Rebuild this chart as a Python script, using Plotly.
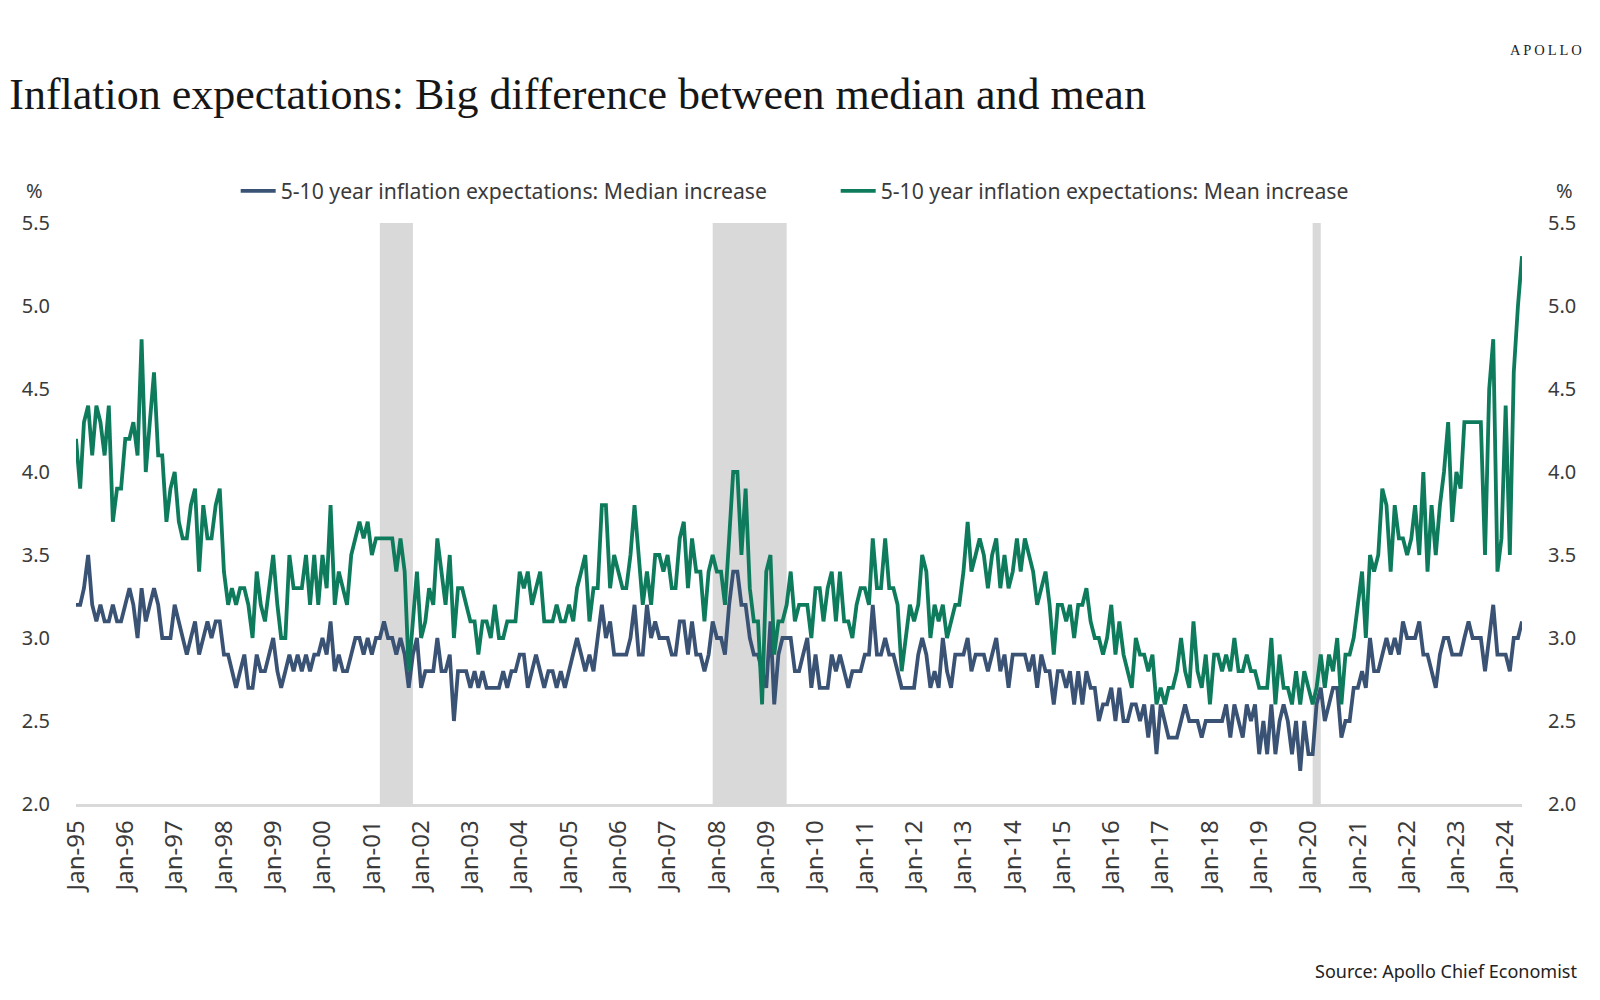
import plotly.graph_objects as go
import pandas as pd

# ---- data (monthly, Jan-1995 .. May-2024) ----
median_increase = [
    3.2,3.2,3.3,3.5,3.2,3.1,3.2,3.1,3.1,3.2,3.1,3.1,  # 1995
    3.2,3.3,3.2,3.0,3.3,3.1,3.2,3.3,3.2,3.0,3.0,3.0,  # 1996
    3.2,3.1,3.0,2.9,3.0,3.1,2.9,3.0,3.1,3.0,3.1,3.1,  # 1997
    2.9,2.9,2.8,2.7,2.8,2.9,2.7,2.7,2.9,2.8,2.8,2.9,  # 1998
    3.0,2.8,2.7,2.8,2.9,2.8,2.9,2.8,2.9,2.8,2.9,2.9,  # 1999
    3.0,2.9,3.1,2.8,2.9,2.8,2.8,2.9,3.0,3.0,2.9,3.0,  # 2000
    2.9,3.0,3.0,3.1,3.0,3.0,2.9,3.0,2.9,2.7,2.9,3.0,  # 2001
    2.7,2.8,2.8,2.8,3.0,2.8,2.8,2.9,2.5,2.8,2.8,2.8,  # 2002
    2.7,2.8,2.7,2.8,2.7,2.7,2.7,2.7,2.8,2.7,2.8,2.8,  # 2003
    2.9,2.9,2.7,2.8,2.9,2.8,2.7,2.8,2.8,2.7,2.8,2.7,  # 2004
    2.8,2.9,3.0,2.9,2.8,2.9,2.8,3.0,3.2,3.0,3.1,2.9,  # 2005
    2.9,2.9,2.9,3.0,3.2,2.9,2.9,3.2,3.0,3.1,3.0,3.0,  # 2006
    3.0,2.9,2.9,3.1,3.1,2.9,3.1,2.9,2.9,2.8,2.9,3.1,  # 2007
    3.0,3.0,2.9,3.2,3.4,3.4,3.2,3.2,3.0,2.9,2.9,2.8,  # 2008
    2.7,3.1,2.6,2.9,3.0,3.0,3.0,2.8,2.8,2.9,3.0,2.7,  # 2009
    2.9,2.7,2.7,2.7,2.9,2.8,2.9,2.8,2.7,2.8,2.8,2.8,  # 2010
    2.9,2.9,3.2,2.9,2.9,3.0,2.9,2.9,2.8,2.7,2.7,2.7,  # 2011
    2.7,2.9,3.0,2.9,2.7,2.8,2.7,3.0,2.8,2.7,2.9,2.9,  # 2012
    2.9,3.0,2.8,2.9,2.9,2.9,2.8,2.9,3.0,2.8,2.9,2.7,  # 2013
    2.9,2.9,2.9,2.9,2.8,2.9,2.7,2.9,2.8,2.8,2.6,2.8,  # 2014
    2.8,2.7,2.8,2.6,2.8,2.6,2.8,2.7,2.7,2.5,2.6,2.6,  # 2015
    2.7,2.5,2.7,2.5,2.5,2.6,2.6,2.5,2.6,2.4,2.6,2.3,  # 2016
    2.6,2.5,2.4,2.4,2.4,2.5,2.6,2.5,2.5,2.5,2.4,2.5,  # 2017
    2.5,2.5,2.5,2.5,2.6,2.4,2.6,2.5,2.4,2.6,2.5,2.6,  # 2018
    2.3,2.5,2.3,2.6,2.3,2.5,2.6,2.5,2.3,2.5,2.2,2.5,  # 2019
    2.3,2.3,2.6,2.7,2.5,2.6,2.7,2.7,2.4,2.5,2.5,2.7,  # 2020
    2.7,2.8,2.7,3.0,2.8,2.8,2.9,3.0,2.9,3.0,2.9,3.1,  # 2021
    3.0,3.0,3.0,3.1,2.9,2.9,2.8,2.7,2.9,3.0,3.0,2.9,  # 2022
    2.9,2.9,3.0,3.1,3.0,3.0,3.0,2.8,3.0,3.2,2.9,2.9,  # 2023
    2.9,2.8,3.0,3.0,3.1,                              # 2024
]

mean_increase = [
    4.2,3.9,4.3,4.4,4.1,4.4,4.3,4.1,4.4,3.7,3.9,3.9,  # 1995
    4.2,4.2,4.3,4.1,4.8,4.0,4.3,4.6,4.1,4.1,3.7,3.9,  # 1996
    4.0,3.7,3.6,3.6,3.8,3.9,3.4,3.8,3.6,3.6,3.8,3.9,  # 1997
    3.4,3.2,3.3,3.2,3.3,3.3,3.2,3.0,3.4,3.2,3.1,3.3,  # 1998
    3.5,3.2,3.0,3.0,3.5,3.3,3.3,3.3,3.5,3.2,3.5,3.2,  # 1999
    3.5,3.3,3.8,3.2,3.4,3.3,3.2,3.5,3.6,3.7,3.6,3.7,  # 2000
    3.5,3.6,3.6,3.6,3.6,3.6,3.4,3.6,3.4,2.8,3.1,3.4,  # 2001
    3.0,3.1,3.3,3.2,3.6,3.4,3.2,3.5,3.0,3.3,3.3,3.2,  # 2002
    3.1,3.1,2.9,3.1,3.1,3.0,3.2,3.0,3.0,3.1,3.1,3.1,  # 2003
    3.4,3.3,3.4,3.2,3.3,3.4,3.1,3.1,3.1,3.2,3.1,3.1,  # 2004
    3.2,3.1,3.3,3.4,3.5,3.1,3.3,3.3,3.8,3.8,3.3,3.5,  # 2005
    3.4,3.3,3.3,3.5,3.8,3.5,3.2,3.4,3.2,3.5,3.5,3.4,  # 2006
    3.5,3.3,3.3,3.6,3.7,3.3,3.6,3.4,3.4,3.1,3.4,3.5,  # 2007
    3.4,3.4,3.2,3.6,4.0,4.0,3.5,3.9,3.3,3.1,3.1,2.6,  # 2008
    3.4,3.5,2.9,3.1,3.1,3.2,3.4,3.1,3.2,3.2,3.2,3.0,  # 2009
    3.3,3.3,3.1,3.3,3.4,3.1,3.4,3.1,3.1,3.0,3.2,3.3,  # 2010
    3.3,3.2,3.6,3.3,3.3,3.6,3.3,3.3,3.2,2.8,3.0,3.2,  # 2011
    3.1,3.2,3.5,3.4,3.0,3.2,3.1,3.2,3.0,3.1,3.2,3.2,  # 2012
    3.4,3.7,3.4,3.5,3.6,3.5,3.3,3.5,3.6,3.3,3.5,3.3,  # 2013
    3.4,3.6,3.4,3.6,3.5,3.4,3.2,3.3,3.4,3.2,2.9,3.2,  # 2014
    3.2,3.1,3.2,3.0,3.2,3.2,3.3,3.1,3.0,3.0,2.9,3.0,  # 2015
    3.2,2.9,3.1,2.9,2.8,2.7,3.0,2.9,2.9,2.8,2.9,2.6,  # 2016
    2.7,2.6,2.7,2.7,2.8,3.0,2.8,2.7,3.1,2.8,2.7,2.9,  # 2017
    2.6,2.9,2.9,2.8,2.9,2.8,3.0,2.8,2.8,2.9,2.8,2.8,  # 2018
    2.7,2.7,2.7,3.0,2.6,2.9,2.7,2.7,2.6,2.8,2.6,2.8,  # 2019
    2.7,2.6,2.7,2.9,2.7,2.9,2.8,3.0,2.6,2.9,2.9,3.0,  # 2020
    3.2,3.4,3.0,3.5,3.4,3.5,3.9,3.8,3.4,3.8,3.6,3.6,  # 2021
    3.5,3.6,3.8,3.5,4.0,3.4,3.8,3.5,3.8,4.0,4.3,3.7,  # 2022
    4.0,3.9,4.3,4.3,4.3,4.3,4.3,3.5,4.5,4.8,3.4,3.6,  # 2023
    4.4,3.5,4.6,5.0,5.3,                              # 2024
]

tick_years = list(range(1995, 2025))
tick_labels = ["Jan-%02d" % (y % 100) for y in tick_years]
y_ticks = [2.0, 2.5, 3.0, 3.5, 4.0, 4.5, 5.0, 5.5]

recessions = [("2001-03-01", "2001-11-01"),
              ("2007-12-01", "2009-06-01"),
              ("2020-02-01", "2020-04-01")]

median_name = "5-10 year inflation expectations: Median increase"
mean_name = "5-10 year inflation expectations: Mean increase"

# ---- build figure ----
dates_med = pd.date_range("1995-01-01", periods=len(median_increase), freq="MS")
dates_mean = pd.date_range("1995-01-01", periods=len(mean_increase), freq="MS")
last_date = max(dates_med[-1], dates_mean[-1])

BLUE = "#3a5375"
GREEN = "#0e7b5c"
TXT = "#3a3a3a"
SANS = "Noto Sans"

W, H = 1600, 1000
ML, MR, MT, MB = 68, 86, 215, 204
PW, PH = W - ML - MR, H - MT - MB


def px_to_paper(xp, yp):
    return (xp - ML) / PW, (H - MB - yp) / PH


fig = go.Figure()
fig.add_trace(go.Scatter(x=dates_med, y=median_increase, mode="lines", name=median_name,
                         line=dict(color=BLUE, width=3.8), yaxis="y"))
fig.add_trace(go.Scatter(x=dates_mean, y=mean_increase, mode="lines", name=mean_name,
                         line=dict(color=GREEN, width=3.8), yaxis="y2"))

for x0, x1 in recessions:
    fig.add_shape(type="rect", xref="x", yref="paper", x0=x0, x1=x1, y0=0, y1=1,
                  fillcolor="#d9d9d9", line=dict(width=0), layer="below")

axis_font = dict(family=SANS, size=20, color=TXT)
fig.update_layout(
    width=W, height=H,
    paper_bgcolor="white", plot_bgcolor="white",
    margin=dict(l=ML, r=MR, t=MT, b=MB, autoexpand=False),
    title=dict(text="Inflation expectations: Big difference between median and mean",
               font=dict(family="Liberation Serif", size=44, color="#161616"),
               xref="container", yref="container", x=0.0008, y=0.9145,
               xanchor="left", yanchor="middle"),
    showlegend=True,
    legend=dict(orientation="h", xref="container", yref="container",
                x=0.1423, y=0.817, xanchor="left", yanchor="middle",
                font=dict(family=SANS, size=21.2, color=TXT),
                entrywidthmode="pixels", entrywidth=550,
                itemwidth=35, bgcolor="rgba(0,0,0,0)", traceorder="normal"),
    xaxis=dict(type="date", range=[dates_med[0], last_date],
               tickvals=[pd.Timestamp(f"{y}-01-01") for y in tick_years],
               ticktext=tick_labels, tickangle=-90, showgrid=False, zeroline=False,
               showline=True, linecolor="#d9d9d9", linewidth=2.5, ticks="",
               tickfont=dict(family=SANS, size=24, color=TXT), ticklabelstandoff=4),
    yaxis=dict(range=[2.0, 5.5], tickvals=y_ticks, tickformat=".1f", showgrid=False,
               zeroline=False, showline=False, ticks="", tickfont=axis_font,
               ticklabelstandoff=25),
    yaxis2=dict(range=[2.0, 5.5], tickvals=y_ticks, tickformat=".1f", showgrid=False,
                zeroline=False, showline=False, ticks="", tickfont=axis_font,
                overlaying="y", side="right", ticklabelstandoff=25),
)

px_, py_ = px_to_paper(26, 182)
fig.add_annotation(text="%", xref="paper", yref="paper", x=px_, y=py_,
                   showarrow=False, font=axis_font, xanchor="center", yanchor="middle")
px_, py_ = px_to_paper(1557, 182)
fig.add_annotation(text="%", xref="paper", yref="paper", x=px_, y=py_,
                   showarrow=False, font=axis_font, xanchor="center", yanchor="middle")
px_, py_ = px_to_paper(1576, 42)
fig.add_annotation(text="A\u2009P\u2009O\u2009L\u2009L\u2009O", xref="paper", yref="paper",
                   x=px_, y=py_, showarrow=False, xanchor="right", yanchor="middle",
                   font=dict(family="Liberation Serif", size=14.5, color="#222222"))
px_, py_ = px_to_paper(1571, 963)
fig.add_annotation(text="Source: Apollo Chief Economist", xref="paper", yref="paper",
                   x=px_, y=py_, showarrow=False, xanchor="right", yanchor="middle",
                   font=dict(family=SANS, size=18, color="#222222"))

fig.write_html("out.html")
